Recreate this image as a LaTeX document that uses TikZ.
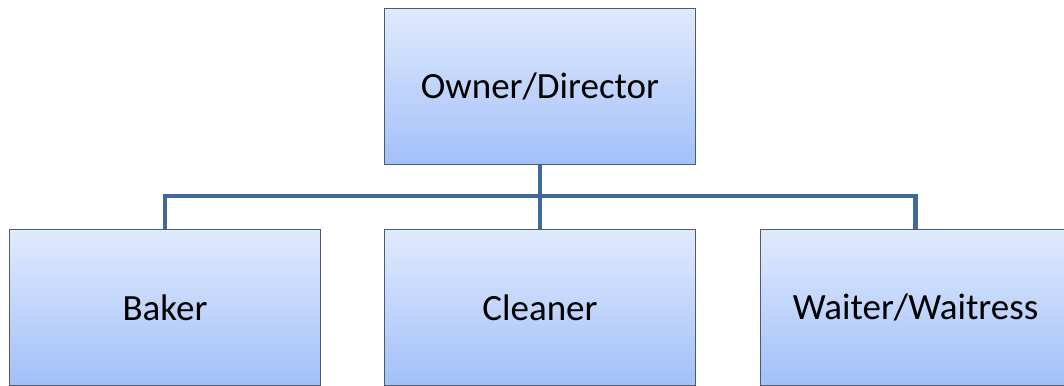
\documentclass[tikz,border=0pt]{standalone}
\usepackage{fontspec}
\setmainfont{Carlito}
\definecolor{boxtop}{HTML}{E0EAFD}
\definecolor{boxbot}{HTML}{A2C0F9}
\definecolor{boxline}{HTML}{4F5A6B}
\definecolor{conn}{HTML}{41689B}
\begin{document}
\begin{tikzpicture}[x=1pt,y=-1pt,
  orgbox/.style={draw=boxline, line width=1pt, top color=boxtop, bottom color=boxbot,
    minimum width=311pt, minimum height=156pt, inner sep=0pt, font=\fontsize{37}{42}\selectfont},
  link/.style={draw=conn, line width=4.5pt}]
\useasboundingbox (0,0) rectangle (1064,385);
\clip (0,0) rectangle (1064,385);
\node[orgbox] (top) at (540,86.3) {Owner/Director};
\node[orgbox] (baker) at (165,307.5) {Baker};
\node[orgbox] (cleaner) at (540,307.5) {Cleaner};
\node[orgbox] (waiter) at (915.5,307.5) {Waiter/Waitress};
\coordinate (bus) at (540,196);
\draw[link] (top.south) -- (bus);
\draw[link] (bus) -| (baker.north);
\draw[link] (bus) -| (waiter.north);
\draw[link] (bus) -- (cleaner.north);
\end{tikzpicture}
\end{document}
